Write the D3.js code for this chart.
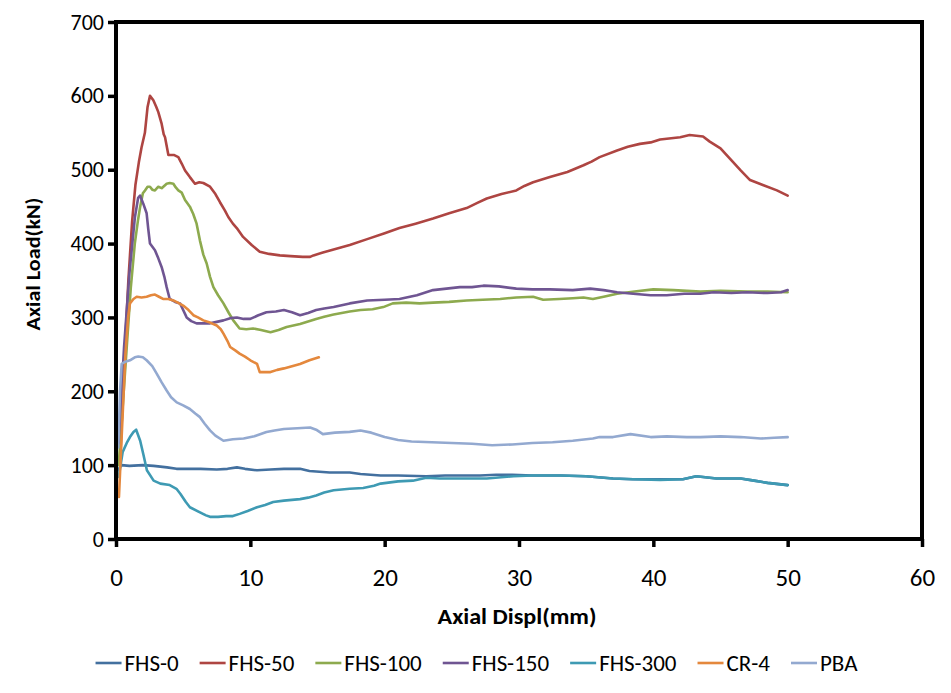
<!DOCTYPE html>
<html>
<head>
<meta charset="utf-8">
<script src="https://cdn.jsdelivr.net/npm/d3@7"></script>
<style>
  html, body { margin: 0; padding: 0; background: #fff; }
  svg { display: block; }
  text { font-family: Carlito, Calibri, Lato, sans-serif; fill: #000; }
</style>
</head>
<body>
<svg id="chart" width="951" height="693"></svg>
<script>
// ---------------- DATA ----------------
const seriesNames = ["FHS-0", "FHS-50", "FHS-100", "FHS-150", "FHS-300", "CR-4", "PBA"];
const seriesColors = ["#43709F", "#AE4542", "#8DAA4E", "#6F5592", "#3E9AB3", "#E4883D", "#93A9D0"];

const xTicks = [0, 10, 20, 30, 40, 50, 60];
const yTicks = [0, 100, 200, 300, 400, 500, 600, 700];
const xTitle = "Axial Displ(mm)";
const yTitle = "Axial Load(kN)";

const fhs0 = [[0.1,92],[0.4,100],[1,99],[2,100],[2.8,99],[3.8,97],[4.5,95],[5.5,95],[6.3,95],[7.5,94],[8.3,95],[9,97],[9.6,95],[10.5,93],[11.5,94],[12.5,95],[13.7,95],[14.4,92],[15.9,90],[17.4,90],[18.2,88],[19.7,86],[21,86],[23.1,85],[24.5,86],[26,86],[27.1,86],[28.3,87],[29.5,87],[31,86],[33.1,86],[35,85],[37,82],[38.5,81],[40.5,81],[42.2,81],[43.2,85],[44.7,82],[46.5,82],[47.5,79],[48.5,76],[50,73]];

const fhs50 = [[0.3,100],[0.55,215],[0.92,350],[1.2,430],[1.45,480],[1.7,510],[1.9,530],[2.15,550],[2.35,585],[2.53,600],[2.78,594],[3.0,585],[3.15,578],[3.4,562],[3.55,548],[3.65,544],[3.9,520],[4.3,520],[4.64,517],[4.9,508],[5.14,499],[5.5,490],[5.88,481],[6.2,483],[6.5,482],[7.0,477],[7.4,467],[7.74,456],[8.1,445],[8.36,436],[8.7,427],[8.99,421],[9.46,409],[10.1,398],[10.7,389],[11.4,386],[12.2,384],[13.0,383],[13.9,382],[14.45,382],[14.7,384],[15.4,388],[16.2,392],[17.4,398],[18.7,406],[20,414],[21.1,421],[22.3,427],[23.6,434],[24.8,441],[26.1,448],[26.9,455],[27.6,461],[28.7,467],[29.8,472],[30.4,478],[31.05,483],[32.3,490],[33.6,497],[34.8,506],[35.4,511],[36.0,517],[37.3,526],[38.1,531],[39.0,535],[39.8,537],[40.5,541],[42.0,544],[42.7,547],[43.7,545],[44.2,538],[45.0,529],[45.7,515],[46.5,499],[47.2,486],[48.2,479],[49.2,472],[50,465]];

const fhs100 = [[0.2,100],[0.5,180],[0.8,260],[1.1,340],[1.4,400],[1.64,432],[1.8,450],[2.0,468],[2.16,472],[2.35,477],[2.53,477],[2.7,473],[2.9,472],[3.15,477],[3.4,475],[3.77,481],[4.0,482],[4.27,481],[4.45,476],[4.64,472],[4.89,469],[5.14,459],[5.5,450],[5.75,440],[6.0,427],[6.25,404],[6.5,385],[6.75,373],[7.0,355],[7.25,341],[7.6,330],[8.0,319],[8.4,306],[8.73,296],[9.2,285],[9.7,284],[10.2,285],[10.8,283],[11.5,280],[12.1,283],[12.7,287],[13.7,291],[14.9,298],[15.5,301],[16.2,304],[17.4,308],[18.2,310],[19.1,311],[19.9,314],[20.6,319],[21.6,320],[22.6,319],[23.6,320],[24.8,321],[26.1,323],[27.3,324],[28.6,325],[29.8,327],[31.05,328],[31.8,324],[33.0,325],[34.0,326],[34.8,327],[35.5,325],[36.3,328],[37.3,332],[38.6,335],[40.0,338],[41.5,337],[43.5,335],[45,336],[47,335],[48.5,335],[50,334]];

const fhs150 = [[0.2,130],[0.6,260],[1.0,360],[1.41,436],[1.65,462],[1.79,465],[2.03,454],[2.28,441],[2.4,420],[2.53,400],[2.9,391],[3.15,380],[3.4,368],[3.6,355],[3.77,341],[4.0,325],[4.4,321],[4.77,319],[5.0,310],[5.26,300],[5.6,295],[6.0,292],[6.5,292],[7.0,292],[7.5,294],[8.0,296],[8.5,299],[9.0,300],[9.5,298],[10.0,298],[10.6,303],[11.2,307],[11.9,308],[12.5,310],[13.1,307],[13.7,303],[14.3,306],[14.9,310],[15.5,312],[16.2,314],[17.4,319],[18.7,323],[20,324],[21.1,325],[22.4,330],[23.6,337],[24.6,339],[25.6,341],[26.5,341],[27.35,343],[28.5,342],[29.8,339],[31,338],[32.3,338],[34.0,337],[35.3,339],[36.3,337],[37.3,334],[38.5,332],[39.8,330],[41.0,330],[42.3,332],[43.5,332],[44.5,334],[45.8,333],[47,334],[48.5,333],[49.5,334],[50,337]];

const fhs300 = [[0.2,84],[0.5,118],[0.8,130],[1.04,138],[1.3,145],[1.5,148],[1.8,133],[2.03,115],[2.3,93],[2.8,79],[3.3,75],[4.0,73],[4.5,68],[4.8,61],[5.2,50],[5.5,43],[6.25,36],[6.7,32],[7.0,30],[7.6,30],[8.2,31],[8.7,31],[9.2,34],[9.8,38],[10.5,43],[11.1,46],[11.7,50],[12.5,52],[13.7,54],[14.3,56],[14.9,59],[15.5,63],[16.2,66],[17.4,68],[18.4,69],[19.2,72],[19.7,75],[21,78],[22.1,79],[23.1,83],[24.1,82],[25.9,82],[27.6,82],[29.6,85],[31,86],[33.1,86],[35,85],[37,82],[38.5,81],[40.5,80],[42.2,81],[43.2,85],[44.7,82],[46.5,82],[47.5,79],[48.5,76],[50,73]];

const cr4 = [[0.22,57],[0.45,150],[0.7,250],[0.9,300],[1.04,319],[1.3,325],[1.54,328],[1.9,327],[2.28,328],[2.6,330],[2.9,331],[3.2,328],[3.5,325],[3.9,325],[4.27,323],[4.6,320],[5.0,316],[5.4,310],[5.76,303],[6.1,300],[6.5,296],[7.0,293],[7.5,289],[7.8,284],[8.0,278],[8.3,268],[8.5,260],[8.9,255],[9.2,251],[9.6,247],[10.0,242],[10.5,237],[10.7,226],[11.1,226],[11.5,226],[12.0,229],[12.5,231],[13.1,234],[13.7,237],[14.4,242],[15.1,246]];

const pba = [[0.17,124],[0.3,200],[0.42,237],[0.7,240],[1.04,242],[1.4,246],[1.66,247],[2.0,246],[2.28,242],[2.7,234],[3.03,224],[3.4,212],[3.77,201],[4.1,192],[4.52,185],[5.0,181],[5.5,176],[5.9,170],[6.25,165],[6.6,156],[7.0,147],[7.4,140],[8.0,133],[8.7,135],[9.5,136],[10.3,139],[11.2,145],[11.8,147],[12.5,149],[13.5,150],[14.45,151],[14.9,148],[15.4,142],[16.3,144],[17.4,145],[18.2,147],[19,144],[20,138],[21,134],[22,132],[23.5,131],[25,130],[26.5,129],[28,127],[29.5,128],[31,130],[32.5,131],[34,133],[35.5,136],[36,138],[37,138],[38.3,142],[39.8,138],[41,139],[42.5,138],[43.5,138],[45,139],[46.5,138],[48,136],[49,137],[50,138]];

const seriesData = [fhs0, fhs50, fhs100, fhs150, fhs300, cr4, pba];

// ---------------- LAYOUT ----------------
const svg = d3.select("#chart");
const plot = { left: 116, right: 922, top: 22, bottom: 539 };

const x = d3.scaleLinear().domain([0, 60]).range([plot.left, plot.right]);
const y = d3.scaleLinear().domain([0, 700]).range([plot.bottom, plot.top]);

// lines
const line = d3.line().x(d => x(d[0])).y(d => y(d[1])).curve(d3.curveLinear);
svg.append("g").selectAll("path")
  .data(seriesData)
  .join("path")
  .attr("d", d => line(d))
  .attr("fill", "none")
  .attr("stroke", (d, i) => seriesColors[i])
  .attr("stroke-width", 2.6)
  .attr("stroke-linejoin", "round")
  .attr("stroke-linecap", "round");

// frame
svg.append("rect")
  .attr("x", plot.left).attr("y", plot.top)
  .attr("width", plot.right - plot.left).attr("height", plot.bottom - plot.top)
  .attr("fill", "none").attr("stroke", "#000").attr("stroke-width", 4);

// y axis
const yAxis = svg.append("g")
  .attr("transform", `translate(${plot.left},0)`)
  .call(d3.axisLeft(y).tickValues(yTicks).tickSize(8).tickPadding(4).tickFormat(d3.format("d")));
yAxis.select(".domain").remove();
yAxis.selectAll(".tick line").attr("stroke", "#000").attr("stroke-width", 3.5);
yAxis.selectAll(".tick text")
  .attr("font-size", 22).attr("font-family", "Carlito, Calibri, Lato, sans-serif");

// x axis
const xAxis = svg.append("g")
  .attr("transform", `translate(0,${plot.bottom})`)
  .call(d3.axisBottom(x).tickValues(xTicks).tickSize(8).tickFormat(d3.format("d")));
xAxis.select(".domain").remove();
xAxis.selectAll(".tick line").attr("stroke", "#000").attr("stroke-width", 3.5);
xAxis.selectAll(".tick text")
  .attr("font-size", 25).attr("font-family", "Carlito, Calibri, Lato, sans-serif")
  .attr("dy", null).attr("y", 47);

// axis titles
svg.append("text")
  .attr("x", 517).attr("y", 624)
  .attr("text-anchor", "middle")
  .attr("font-size", 22).attr("font-weight", "bold")
  .attr("textLength", 159).attr("lengthAdjust", "spacingAndGlyphs")
  .text(xTitle);

svg.append("text")
  .attr("transform", "translate(40,264) rotate(-90)")
  .attr("text-anchor", "middle")
  .attr("font-size", 20).attr("font-weight", "bold")
  .attr("textLength", 133).attr("lengthAdjust", "spacingAndGlyphs")
  .text(yTitle);

// legend
const legend = svg.append("g");
const legendY = 663;
const swatch = 26, gapAfterSwatch = 3, gapItems = 21;
const items = legend.selectAll("g").data(seriesNames).join("g");
items.append("line")
  .attr("x1", 0).attr("x2", swatch).attr("y1", 0).attr("y2", 0)
  .attr("stroke", (d, i) => seriesColors[i]).attr("stroke-width", 2.6);
items.append("text")
  .attr("x", swatch + gapAfterSwatch).attr("y", 0)
  .attr("dy", "0.36em")
  .attr("font-size", 23)
  .text(d => d);
const widths = [];
items.each(function () {
  widths.push(swatch + gapAfterSwatch + d3.select(this).select("text").node().getComputedTextLength());
});
const total = d3.sum(widths) + gapItems * (widths.length - 1);
let cx = 476.5 - total / 2;
items.attr("transform", (d, i) => {
  const t = `translate(${cx},${legendY})`;
  cx += widths[i] + gapItems;
  return t;
});
</script>
</body>
</html>
